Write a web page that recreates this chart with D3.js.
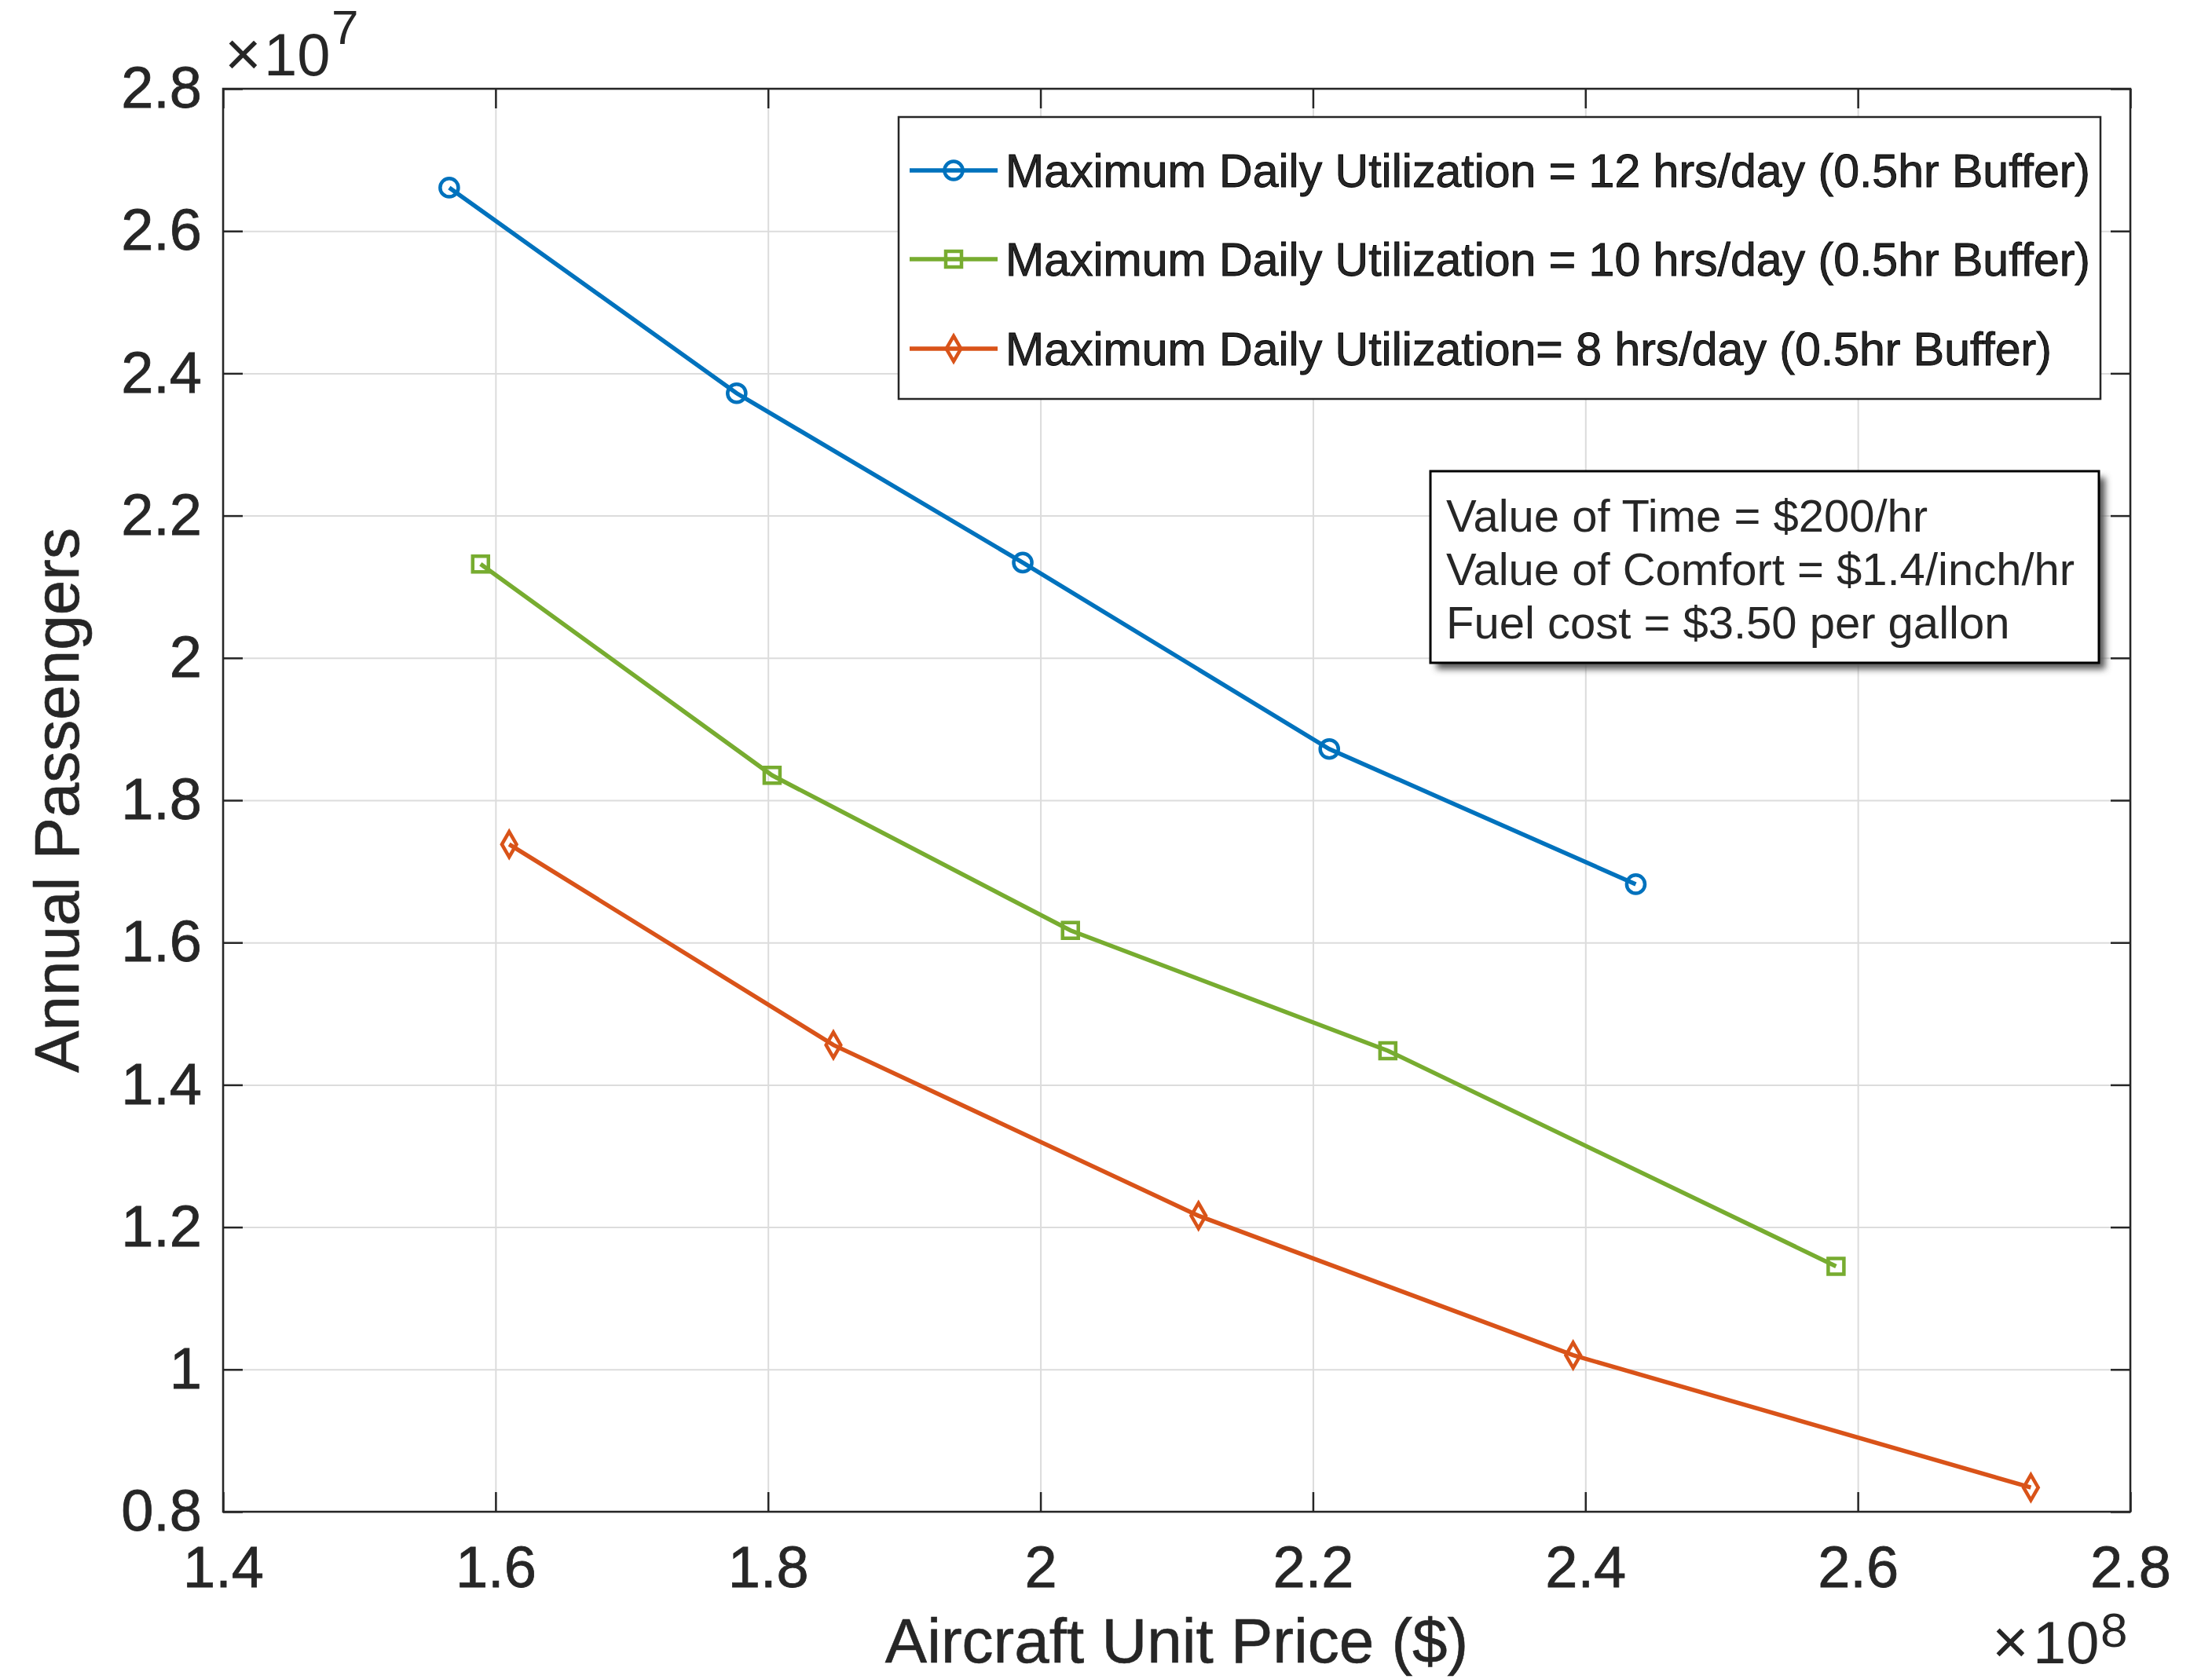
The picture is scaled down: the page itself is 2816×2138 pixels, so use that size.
<!DOCTYPE html>
<html>
<head>
<meta charset="utf-8">
<script src="https://cdn.jsdelivr.net/npm/d3@7"></script>
<style>
  body { margin: 0; background: #fff; }
  svg text { font-family: "Liberation Sans", Arial, sans-serif; fill: #262626; }
</style>
</head>
<body>
<div id="chart"></div>
<script>
(function(d3) {
  'use strict';

  // data (price in 1e8 $, passengers in 1e7)
  var price12 = [1.566, 1.777, 1.987, 2.212, 2.437];
  var pax12   = [2.661, 2.372, 2.134, 1.872, 1.682];
  var price10 = [1.589, 1.803, 2.022, 2.255, 2.584];
  var pax10   = [2.132, 1.835, 1.617, 1.448, 1.145];
  var price8  = [1.610, 1.848, 2.116, 2.391, 2.727];
  var pax8    = [1.738, 1.456, 1.216, 1.020, 0.834];

  var seriesNames = [
    'Maximum Daily Utilization = 12 hrs/day (0.5hr Buffer)',
    'Maximum Daily Utilization = 10 hrs/day (0.5hr Buffer)',
    'Maximum Daily Utilization= 8 hrs/day (0.5hr Buffer)'
  ];
  var xTicks = [1.4, 1.6, 1.8, 2, 2.2, 2.4, 2.6, 2.8];
  var yTicks = [0.8, 1, 1.2, 1.4, 1.6, 1.8, 2, 2.2, 2.4, 2.6, 2.8];
  var noteLines = [
    'Value of Time = $200/hr',
    'Value of Comfort = $1.4/inch/hr',
    'Fuel cost = $3.50 per gallon'
  ];

  var colors = ['#0072BD', '#77AC30', '#D95319'];
  var shapes = [d3.symbolCircle, d3.symbolSquare, d3.symbolDiamond];
  var shapeSize = [420, 400, 300];

  var series = [
    { name: seriesNames[0], xs: price12, ys: pax12 },
    { name: seriesNames[1], xs: price10, ys: pax10 },
    { name: seriesNames[2], xs: price8,  ys: pax8 }
  ];

  var W = 2816, H = 2138;
  var left = 284, right = 2712, top = 113, bottom = 1925;
  var pw = right - left, ph = bottom - top;
  var tickLen = 25;

  var svg = d3.select('#chart').append('svg')
    .attr('width', W).attr('height', H);

  var defs = svg.append('defs');
  defs.append('filter').attr('id', 'shadow')
    .attr('x', '-10%').attr('y', '-10%').attr('width', '130%').attr('height', '130%')
    .append('feGaussianBlur').attr('stdDeviation', 4);

  var x = d3.scaleLinear().domain([1.4, 2.8]).range([0, pw]);
  var y = d3.scaleLinear().domain([0.8, 2.8]).range([ph, 0]);

  var g = svg.append('g').attr('transform', 'translate(' + left + ',' + top + ')');

  // grid
  g.append('g').attr('transform', 'translate(0,' + ph + ')')
    .call(d3.axisBottom(x).tickValues(xTicks).tickSize(-ph).tickFormat(''))
    .call(function(s) {
      s.select('.domain').remove();
      s.selectAll('line').attr('stroke', '#dcdcdc').attr('stroke-width', 2);
    });
  g.append('g')
    .call(d3.axisLeft(y).tickValues(yTicks).tickSize(-pw).tickFormat(''))
    .call(function(s) {
      s.select('.domain').remove();
      s.selectAll('line').attr('stroke', '#dcdcdc').attr('stroke-width', 2);
    });

  // axes with inward ticks
  function styleAxis(s) {
    s.select('.domain').remove();
    s.selectAll('line').attr('stroke', '#262626').attr('stroke-width', 2.5);
    s.selectAll('text').attr('font-size', 74).attr('fill', '#262626')
      .attr('stroke', '#262626').attr('stroke-width', 0.8)
      .attr('font-family', '"Liberation Sans", Arial, sans-serif');
  }
  g.append('g').attr('transform', 'translate(0,' + ph + ')')
    .call(d3.axisBottom(x).tickValues(xTicks).tickSize(-tickLen).tickPadding(43)
      .tickFormat(d3.format('')))
    .call(styleAxis);
  g.append('g')
    .call(d3.axisLeft(y).tickValues(yTicks).tickSize(-tickLen).tickPadding(27)
      .tickFormat(d3.format('')))
    .call(styleAxis);
  g.append('g')
    .call(d3.axisTop(x).tickValues(xTicks).tickSize(-tickLen).tickFormat(''))
    .call(styleAxis);
  g.append('g').attr('transform', 'translate(' + pw + ',0)')
    .call(d3.axisRight(y).tickValues(yTicks).tickSize(-tickLen).tickFormat(''))
    .call(styleAxis);

  g.append('rect').attr('width', pw).attr('height', ph)
    .attr('fill', 'none').attr('stroke', '#262626').attr('stroke-width', 2.5);

  // lines + markers
  var line = d3.line().x(function(d) { return x(d[0]); }).y(function(d) { return y(d[1]); });

  series.forEach(function(s, i) {
    var pts = d3.zip(s.xs, s.ys);
    g.append('path').datum(pts)
      .attr('d', line)
      .attr('fill', 'none')
      .attr('stroke', colors[i])
      .attr('stroke-width', 5.5);
    g.selectAll('.m' + i).data(pts).enter().append('path')
      .attr('class', 'm' + i)
      .attr('transform', function(d) { return 'translate(' + x(d[0]) + ',' + y(d[1]) + ')'; })
      .attr('d', d3.symbol().type(shapes[i]).size(shapeSize[i]))
      .attr('fill', 'none')
      .attr('stroke', colors[i])
      .attr('stroke-width', 4.5);
  });

  // legend
  var lg = svg.append('g');
  lg.append('rect').attr('x', 1144).attr('y', 149).attr('width', 1530).attr('height', 359)
    .attr('fill', '#fff').attr('stroke', '#262626').attr('stroke-width', 2.5);
  var legY = [217, 330, 444];
  series.forEach(function(s, i) {
    lg.append('line').attr('x1', 1158).attr('x2', 1270)
      .attr('y1', legY[i]).attr('y2', legY[i])
      .attr('stroke', colors[i]).attr('stroke-width', 5.5);
    lg.append('path')
      .attr('transform', 'translate(1214,' + legY[i] + ')')
      .attr('d', d3.symbol().type(shapes[i]).size(shapeSize[i]))
      .attr('fill', 'none').attr('stroke', colors[i]).attr('stroke-width', 4.5);
    lg.append('text').attr('x', 1280).attr('y', legY[i] + 21)
      .attr('font-size', 59)
      .attr('fill', '#000').attr('stroke', '#000').attr('stroke-width', 0.9)
      .text(s.name);
  });

  // note box
  var nb = svg.append('g');
  nb.append('rect').attr('x', 1829).attr('y', 608).attr('width', 851).attr('height', 244)
    .attr('fill', '#555').attr('filter', 'url(#shadow)');
  nb.append('rect').attr('x', 1821).attr('y', 600).attr('width', 851).attr('height', 244)
    .attr('fill', '#fff').attr('stroke', '#000').attr('stroke-width', 3);
  nb.selectAll('text.note').data(noteLines).enter().append('text')
    .attr('class', 'note')
    .attr('x', 1841)
    .attr('y', function(d, i) { return 677 + i * 68; })
    .attr('font-size', 58)
    .text(function(d) { return d; });

  // axis titles
  svg.append('text')
    .attr('x', left + pw / 2).attr('y', 2117)
    .attr('text-anchor', 'middle').attr('font-size', 80)
    .attr('stroke', '#262626').attr('stroke-width', 0.6)
    .text('Aircraft Unit Price ($)');
  svg.append('text')
    .attr('transform', 'translate(100,' + (top + ph / 2) + ') rotate(-90)')
    .attr('text-anchor', 'middle').attr('font-size', 80)
    .attr('stroke', '#262626').attr('stroke-width', 0.6)
    .text('Annual Passengers');

  // exponent labels
  svg.append('text').attr('x', 286).attr('y', 96).attr('font-size', 80).text('\u00d7');
  svg.append('text').attr('x', 336).attr('y', 96).attr('font-size', 76).text('10');
  svg.append('text').attr('x', 422).attr('y', 56).attr('font-size', 62).text('7');

  svg.append('text').attr('x', 2536).attr('y', 2118).attr('font-size', 80).text('\u00d7');
  svg.append('text').attr('x', 2588).attr('y', 2118).attr('font-size', 76).text('10');
  svg.append('text').attr('x', 2674).attr('y', 2097).attr('font-size', 62).text('8');

})(window.d3);
</script>
</body>
</html>
